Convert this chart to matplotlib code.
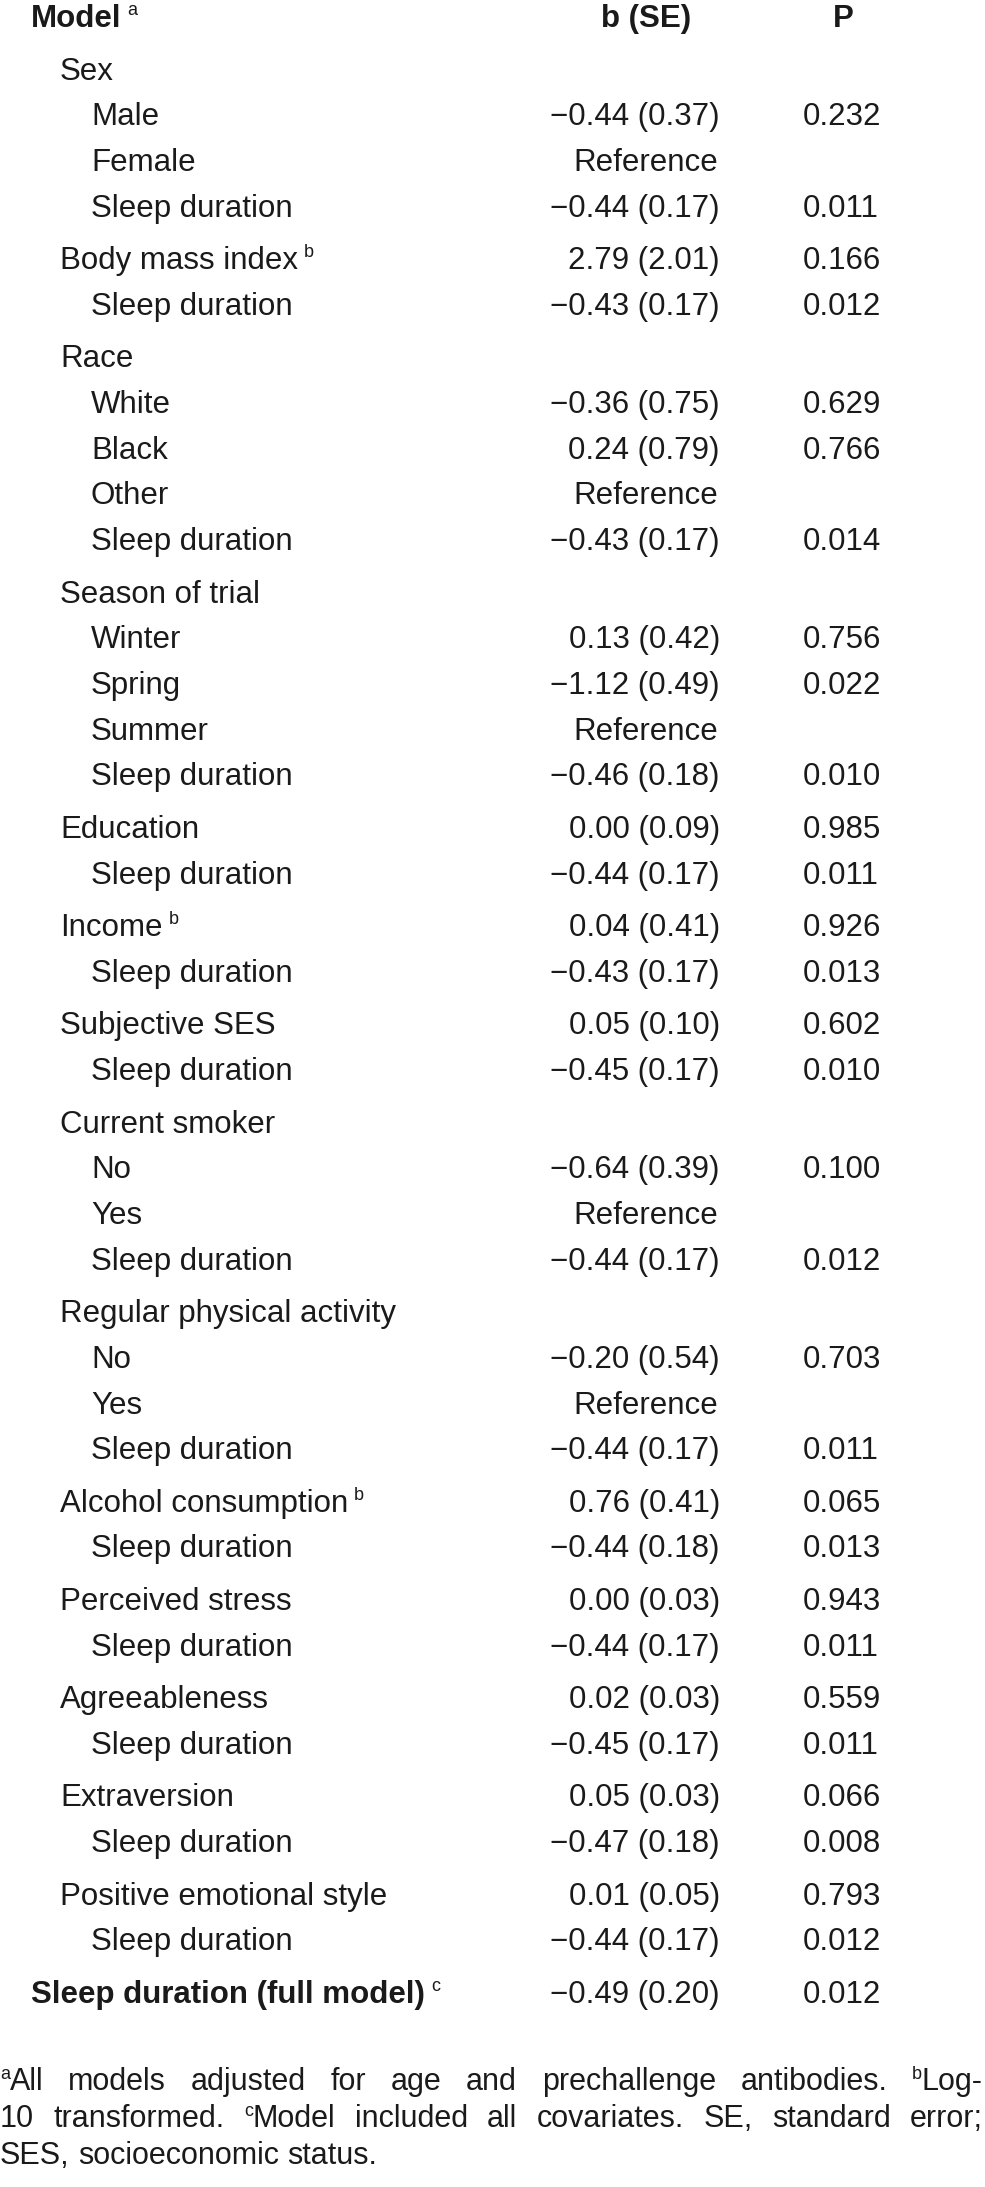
import matplotlib
matplotlib.use('Agg')
import matplotlib.pyplot as plt

plt.rcParams['font.family'] = ['Liberation Sans', 'DejaVu Sans']

# table content
labels = ['Sex', 'Male', 'Female', 'Sleep duration',
          'Body mass index', 'Sleep duration',
          'Race', 'White', 'Black', 'Other', 'Sleep duration',
          'Season of trial', 'Winter', 'Spring', 'Summer', 'Sleep duration',
          'Education', 'Sleep duration',
          'Income', 'Sleep duration',
          'Subjective SES', 'Sleep duration',
          'Current smoker', 'No', 'Yes', 'Sleep duration',
          'Regular physical activity', 'No', 'Yes', 'Sleep duration',
          'Alcohol consumption', 'Sleep duration',
          'Perceived stress', 'Sleep duration',
          'Agreeableness', 'Sleep duration',
          'Extraversion', 'Sleep duration',
          'Positive emotional style', 'Sleep duration',
          'Sleep duration (full model)']
levels = [1, 2, 2, 2,
          1, 2,
          1, 2, 2, 2, 2,
          1, 2, 2, 2, 2,
          1, 2,
          1, 2,
          1, 2,
          1, 2, 2, 2,
          1, 2, 2, 2,
          1, 2,
          1, 2,
          1, 2,
          1, 2,
          1, 2,
          0]
sups = {'Body mass index': 'b', 'Income': 'b', 'Alcohol consumption': 'b',
        'Sleep duration (full model)': 'c'}
b_se = ['', '−0.44 (0.37)', 'Reference', '−0.44 (0.17)',
        '2.79 (2.01)', '−0.43 (0.17)',
        '', '−0.36 (0.75)', '0.24 (0.79)', 'Reference', '−0.43 (0.17)',
        '', '0.13 (0.42)', '−1.12 (0.49)', 'Reference', '−0.46 (0.18)',
        '0.00 (0.09)', '−0.44 (0.17)',
        '0.04 (0.41)', '−0.43 (0.17)',
        '0.05 (0.10)', '−0.45 (0.17)',
        '', '−0.64 (0.39)', 'Reference', '−0.44 (0.17)',
        '', '−0.20 (0.54)', 'Reference', '−0.44 (0.17)',
        '0.76 (0.41)', '−0.44 (0.18)',
        '0.00 (0.03)', '−0.44 (0.17)',
        '0.02 (0.03)', '−0.45 (0.17)',
        '0.05 (0.03)', '−0.47 (0.18)',
        '0.01 (0.05)', '−0.44 (0.17)',
        '−0.49 (0.20)']
p_vals = ['', '0.232', '', '0.011',
          '0.166', '0.012',
          '', '0.629', '0.766', '', '0.014',
          '', '0.756', '0.022', '', '0.010',
          '0.985', '0.011',
          '0.926', '0.013',
          '0.602', '0.010',
          '', '0.100', '', '0.012',
          '', '0.703', '', '0.011',
          '0.065', '0.013',
          '0.943', '0.011',
          '0.559', '0.011',
          '0.066', '0.008',
          '0.793', '0.012',
          '0.012']

footnote_lines = [
    [('a', True), ('All', False), ('models', False), ('adjusted', False), ('for', False),
     ('age', False), ('and', False), ('prechallenge', False), ('antibodies.', False),
     ('b', True), ('Log-', False)],
    [('10', False), ('transformed.', False), ('c', True), ('Model', False), ('included', False),
     ('all', False), ('covariates.', False), ('SE,', False), ('standard', False), ('error;', False)],
    [('SES,', False), ('socioeconomic', False), ('status.', False)],
]

W, H = 985, 2187
fig = plt.figure(figsize=(W / 100, H / 100), dpi=100)
ax = fig.add_axes([0, 0, 1, 1])
ax.set_xlim(0, W)
ax.set_ylim(H, 0)
ax.axis('off')
fig.canvas.draw()
rend = fig.canvas.get_renderer()

FS = 22.5
SUP = 13
COL = '#1a1a1a'
indent_x = {0: 31, 1: 60, 2: 91}


def put(x, y, s, size=FS, weight='normal', ha='left'):
    t = ax.text(x, y, s, fontsize=size, fontweight=weight, ha=ha, va='baseline', color=COL)
    return t.get_window_extent(rend).width


def put_sup(x, y, main, sup, weight='normal', gap=6):
    w = put(x, y, main, weight=weight)
    put(x + w + gap, y - 12, sup, size=SUP)


# header
put_sup(indent_x[0], 27, 'Model', 'a', weight='bold')
put(646, 27, 'b (SE)', weight='bold', ha='center')
put(843, 27, 'P', weight='bold', ha='center')

# rows
y = 27
for i, lab in enumerate(labels):
    if levels[i] <= 1:
        y += 52.5
    else:
        y += 45.7
    wt = 'bold' if levels[i] == 0 else 'normal'
    if lab in sups:
        put_sup(indent_x[levels[i]], y, lab, sups[lab], weight=wt)
    else:
        put(indent_x[levels[i]], y, lab, weight=wt)
    if b_se[i] == 'Reference':
        put(646, y, b_se[i], ha='center')
    elif b_se[i]:
        put(720, y, b_se[i], ha='right')
    if p_vals[i]:
        put(803, y, p_vals[i])

# footnote, justified
FN = 22
fy = [2090, 2127, 2164]
left, right = 0, 983
for li, words in enumerate(footnote_lines):
    widths = []
    for txt, is_sup in words:
        t = ax.text(0, 0, txt, fontsize=SUP if is_sup else FN)
        widths.append(t.get_window_extent(rend).width)
        t.remove()
    # superscripts stick to the following word
    n_gaps = sum(1 for k in range(1, len(words)) if not words[k - 1][1])
    if li < len(footnote_lines) - 1:
        gap = (right - left - sum(widths)) / n_gaps
    else:
        gap = ax.text(0, 0, ' ', fontsize=FN).get_window_extent(rend).width
    x = left
    for k, (txt, is_sup) in enumerate(words):
        if k > 0 and not words[k - 1][1]:
            x += gap
        if is_sup:
            put(x, fy[li] - 11, txt, size=SUP)
        else:
            put(x, fy[li], txt, size=FN)
        x += widths[k]

fig.savefig('out.png', dpi=100, facecolor='white')
